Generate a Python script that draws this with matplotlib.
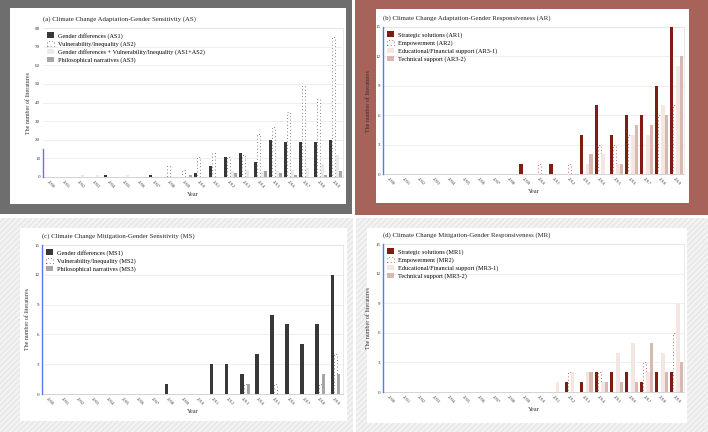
import numpy as np
import matplotlib
matplotlib.use('Agg')
import matplotlib.pyplot as plt
from matplotlib.patches import Rectangle, Patch

plt.rcParams['font.family'] = ['Liberation Serif', 'DejaVu Serif']

years = [str(y) for y in range(2000, 2020)]

# (a) Adaptation - Gender Sensitivity
AS1 = [0, 0, 0, 0, 1, 0, 0, 1, 0, 0, 2, 6, 11, 13, 8, 20, 19, 19, 19, 20]
AS2 = [0, 0, 0, 0, 0, 0, 0, 0, 6, 4, 11, 13, 11, 12, 23, 27, 35, 49, 42, 75]
AS12 = [0, 0, 1, 1, 0, 1, 0, 0, 0, 0, 0, 0, 3, 4, 3, 3, 4, 5, 7, 12]
AS3 = [0, 0, 0, 0, 0, 0, 0, 0, 0, 1, 0, 0, 2, 0, 3, 2, 1, 0, 1, 3]

# (b) Adaptation - Gender Responsiveness
AR1 = [0, 0, 0, 0, 0, 0, 0, 0, 0, 1, 0, 1, 0, 4, 7, 4, 6, 6, 9, 15]
AR2 = [0, 0, 0, 0, 0, 0, 0, 0, 0, 0, 1, 0, 1, 0, 3, 3, 4, 0, 6, 7]
AR31 = [0, 0, 0, 0, 0, 0, 0, 0, 0, 0, 0, 0, 0, 1, 2, 1, 4, 4, 7, 11]
AR32 = [0, 0, 0, 0, 0, 0, 0, 0, 0, 0, 0, 0, 0, 2, 0, 1, 5, 5, 6, 12]

# (c) Mitigation - Gender Sensitivity
MS1 = [0, 0, 0, 0, 0, 0, 0, 0, 1, 0, 0, 3, 3, 2, 4, 8, 7, 5, 7, 12]
MS2 = [0, 0, 0, 0, 0, 0, 0, 0, 0, 0, 0, 0, 0, 1, 0, 1, 0, 0, 1, 4]
MS3 = [0, 0, 0, 0, 0, 0, 0, 0, 0, 0, 0, 0, 0, 1, 0, 0, 0, 0, 2, 2]

# (d) Mitigation - Gender Responsiveness
MR1 = [0, 0, 0, 0, 0, 0, 0, 0, 0, 0, 0, 0, 1, 1, 2, 2, 2, 1, 2, 2]
MR2 = [0, 0, 0, 0, 0, 0, 0, 0, 0, 0, 0, 0, 2, 0, 2, 0, 0, 3, 0, 6]
MR31 = [0, 0, 0, 0, 0, 0, 0, 0, 0, 0, 0, 1, 2, 2, 1, 4, 5, 2, 4, 9]
MR32 = [0, 0, 0, 0, 0, 0, 0, 0, 0, 0, 0, 0, 0, 2, 1, 1, 1, 5, 2, 3]

# styles: (facecolor, dotted edge colour or None)
grey_styles = [('#383838', None), ('white', '#5a5a5a'),
               ('#ebebeb', None), ('#a6a6a6', None)]
red_styles = [('#801d13', None), ('white', '#c0392b'),
              ('#f3e6e3', None), ('#d9b8b2', None)]
dots = (0, (1.0, 3.0))

fig = plt.figure(figsize=(7.08, 4.32), dpi=100)
W, H = 708, 432


def box(x0, y0, x1, y1, **kw):
    # pixel coords, y from top
    r = Rectangle((x0 / W, 1 - y1 / H), (x1 - x0) / W, (y1 - y0) / H,
                  transform=fig.transFigure, zorder=-10, **kw)
    fig.patches.append(r)


# panel backgrounds
box(0, 0, 352, 214, facecolor='#6e6e6e', edgecolor='none')
box(355, 0, 708, 215, facecolor='#a7625a', edgecolor='none')
box(0, 218, 353, 432, facecolor='#f3f3f3', edgecolor='#e6e6e6', hatch='//////', linewidth=0)
box(356, 218, 708, 432, facecolor='#f3f3f3', edgecolor='#e6e6e6', hatch='//////', linewidth=0)
box(10, 8, 346, 204, facecolor='white', edgecolor='none')
box(376, 9, 689, 203, facecolor='white', edgecolor='none')
box(20, 228, 347, 421, facecolor='white', edgecolor='none')
box(367, 228, 687, 423, facecolor='white', edgecolor='none')


def panel(rect, title, series, labels, styles, ymax, ystep):
    x0, y0, x1, y1 = rect
    ax = fig.add_axes([x0 / W, 1 - y1 / H, (x1 - x0) / W, (y1 - y0) / H])
    ax.set_facecolor('none')
    x = np.arange(len(years))
    n = len(series)
    bw = 0.22
    handles = []
    for i, (vals, lab, st) in enumerate(zip(series, labels, styles)):
        fc, dc = st
        off = (i - (n - 1) / 2) * bw
        if dc:
            v = np.array(vals, dtype=float)
            m = v > 0
            ax.bar((x + off)[m], v[m], bw * 0.85, color=fc, edgecolor=dc,
                   linewidth=0.6, linestyle=dots, zorder=3)
            handles.append(Patch(facecolor=fc, edgecolor=dc, linewidth=0.6,
                                 linestyle=dots, label=lab))
        else:
            ax.bar(x + off, vals, bw, color=fc, linewidth=0, zorder=3)
            handles.append(Patch(facecolor=fc, linewidth=0, label=lab))
    ax.set_xlim(-0.5, len(years) - 0.5)
    ax.set_ylim(0, ymax)
    ax.set_yticks(np.arange(0, ymax + 1, ystep))
    ax.grid(axis='y', color='#e8e8e8', linewidth=0.5, zorder=0)
    ax.set_xticks(x)
    ax.set_xticklabels(years, rotation=-45, ha='center', fontsize=3.3, color='#444444')
    ax.tick_params(axis='both', length=0, pad=2)
    ax.tick_params(axis='y', labelsize=3.6, labelcolor='#333333')
    for s in ['top', 'right']:
        ax.spines[s].set_color('#e0e0e0')
        ax.spines[s].set_linewidth(0.5)
    ax.spines['bottom'].set_color('#cccccc')
    ax.spines['bottom'].set_linewidth(0.6)
    ax.spines['left'].set_visible(False)
    ax.plot([-0.5, -0.5], [0, 15], color='#5a78f0', linewidth=1.0, clip_on=False, zorder=5)
    ax.set_title(title, loc='left', fontsize=4.9, pad=5, color='#222222')
    ax.set_xlabel('Year', fontsize=4.6, labelpad=2, color='#333333')
    ax.set_ylabel('The number of literatures', fontsize=4.3, labelpad=3, color='#333333')
    ax.legend(handles=handles, loc='upper left', frameon=False, fontsize=4.5,
              handlelength=1.0, handleheight=1.0, handletextpad=0.7,
              labelspacing=0.3, borderaxespad=0.4, borderpad=0.3)
    return ax


panel((43, 28, 343, 177), '(a) Climate Change Adaptation-Gender Sensitivity (AS)',
      [AS1, AS2, AS12, AS3],
      ['Gender differences (AS1)', 'Vulnerability/Inequality (AS2)',
       'Gender differences + Vulnerability/Inequality (AS1+AS2)', 'Philosophical narratives (AS3)'],
      grey_styles, 80, 10)

panel((383, 27, 684, 174), '(b) Climate Change Adaptation-Gender Responsiveness (AR)',
      [AR1, AR2, AR31, AR32],
      ['Strategic solutions (AR1)', 'Empowerment (AR2)',
       'Educational/Financial support (AR3-1)', 'Technical support (AR3-2)'],
      red_styles, 15, 3)

panel((42, 245, 343, 394), '(c) Climate Change Mitigation-Gender Sensitivity (MS)',
      [MS1, MS2, MS3],
      ['Gender differences (MS1)', 'Vulnerability/Inequality (MS2)', 'Philosophical narratives (MS3)'],
      [grey_styles[0], grey_styles[1], grey_styles[3]], 15, 3)

panel((383, 244, 684, 392), '(d) Climate Change Mitigation-Gender Responsiveness (MR)',
      [MR1, MR2, MR31, MR32],
      ['Strategic solutions (MR1)', 'Empowerment (MR2)',
       'Educational/Financial support (MR3-1)', 'Technical support (MR3-2)'],
      red_styles, 15, 3)

fig.savefig('out.png', dpi=100)
